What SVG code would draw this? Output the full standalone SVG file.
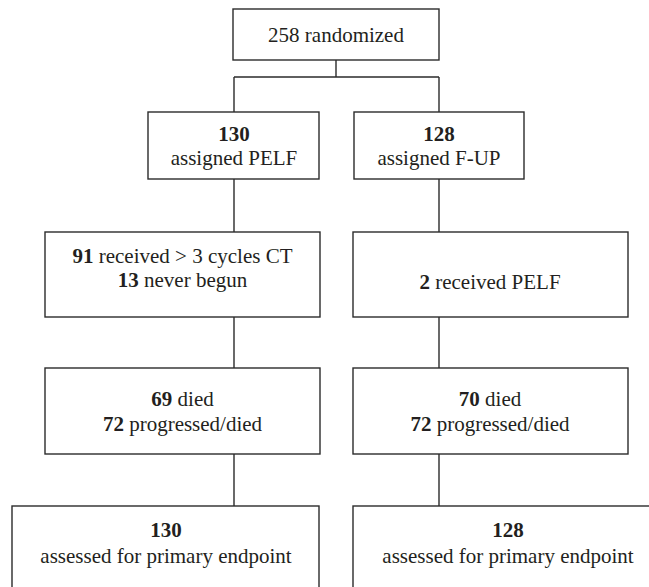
<svg xmlns="http://www.w3.org/2000/svg" width="649" height="587" viewBox="0 0 649 587">
<style>
.box{fill:#fff;stroke:#2b2b2b;stroke-width:1.4}
.ln{stroke:#2b2b2b;stroke-width:1.4;fill:none}
.t{font-family:'Liberation Serif','Times New Roman',serif;font-size:21px;fill:#231f20;text-anchor:middle}
.b{font-weight:bold}
</style>
<rect width="649" height="587" fill="#fff"/>
<g id="connectors">
<path class="ln" d="M336,60V77M234,77H439M234,77V112M439,77V112M234,179V232M439,179V232M234,317V368M439,317V368M234,454V506M439,454V506"/>
</g>
<g id="randomized">
<rect class="box" x="233" y="9" width="206" height="51"/>
<text class="t" x="336" y="42">258 randomized</text>
</g>
<g id="assigned-pelf">
<rect class="box" x="148" y="112" width="171" height="67"/>
<text class="t b" x="234" y="141">130</text>
<text class="t" x="234" y="165">assigned PELF</text>
</g>
<g id="assigned-fup">
<rect class="box" x="354" y="112" width="170" height="67"/>
<text class="t b" x="439" y="141">128</text>
<text class="t" x="439" y="165">assigned F-UP</text>
</g>
<g id="received-ct">
<rect class="box" x="45" y="232" width="275" height="85"/>
<text class="t" x="182.5" y="263"><tspan class="b">91</tspan> received &gt; 3 cycles CT</text>
<text class="t" x="182.5" y="287"><tspan class="b">13</tspan> never begun</text>
</g>
<g id="received-pelf">
<rect class="box" x="353" y="232" width="275" height="85"/>
<text class="t" x="490" y="289"><tspan class="b">2</tspan> received PELF</text>
</g>
<g id="died-left">
<rect class="box" x="45" y="368" width="275" height="86"/>
<text class="t" x="182.5" y="406"><tspan class="b">69</tspan> died</text>
<text class="t" x="182.5" y="431"><tspan class="b">72</tspan> progressed/died</text>
</g>
<g id="died-right">
<rect class="box" x="353" y="368" width="275" height="86"/>
<text class="t" x="490" y="406"><tspan class="b">70</tspan> died</text>
<text class="t" x="490" y="431"><tspan class="b">72</tspan> progressed/died</text>
</g>
<g id="assessed-left">
<rect class="box" x="12" y="506" width="307" height="100"/>
<text class="t b" x="166" y="537">130</text>
<text class="t" x="166" y="563">assessed for primary endpoint</text>
</g>
<g id="assessed-right">
<rect class="box" x="353" y="506" width="310" height="100"/>
<text class="t b" x="508" y="537">128</text>
<text class="t" x="508" y="563">assessed for primary endpoint</text>
</g>
</svg>
